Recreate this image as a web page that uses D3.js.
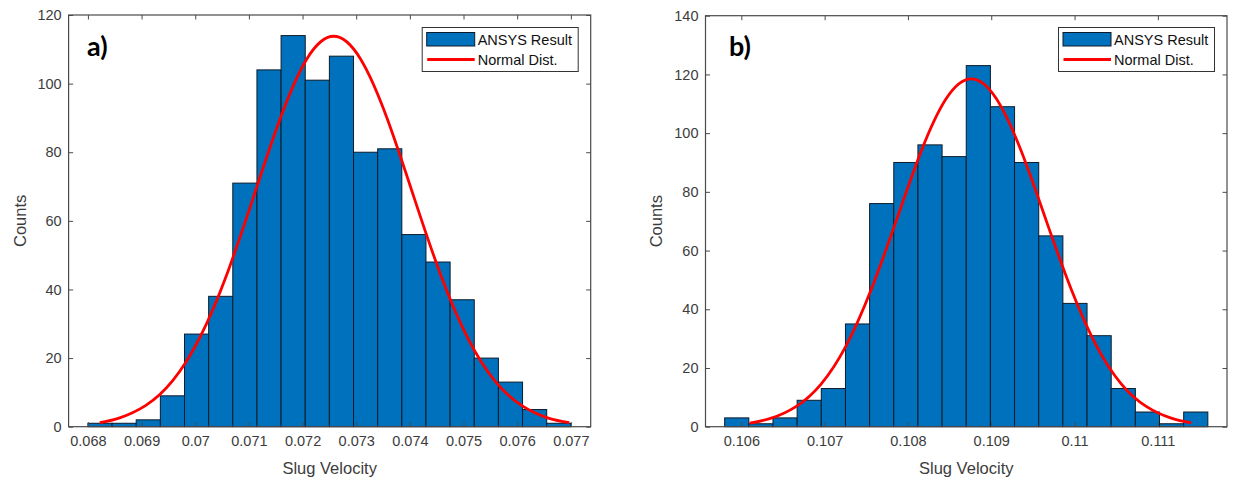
<!DOCTYPE html>
<html>
<head>
<meta charset="utf-8">
<script src="https://cdn.jsdelivr.net/npm/d3@7/dist/d3.min.js"></script>
<style>
  html, body { margin: 0; padding: 0; background: #fff; }
  svg { display: block; }
  text { font-family: "Liberation Sans", Arial, Helvetica, sans-serif; }
</style>
</head>
<body>
<svg id="chart" width="1233" height="480"></svg>
<script>
// ---- Panel a): slug velocity histogram (20 bins) ----
const binEdgesA = [0.068, 0.06845, 0.0689, 0.06935, 0.0698, 0.07025, 0.0707, 0.07115, 0.0716, 0.07205,
                   0.0725, 0.07295, 0.0734, 0.07385, 0.0743, 0.07475, 0.0752, 0.07565, 0.0761, 0.07655, 0.077];
const countsA = [1, 1, 2, 9, 27, 38, 71, 104, 114, 101, 108, 80, 81, 56, 48, 37, 20, 13, 5, 1];
// fitted normal curve, [velocity, count]
const normalA = [
  [0.06822, 1.2], [0.06858, 2.5], [0.06908, 6.2], [0.06958, 13.4], [0.07008, 25.8], [0.07058, 44.0],
  [0.07108, 66.7], [0.07158, 89.7], [0.07208, 107.2], [0.07258, 113.8], [0.07308, 107.2], [0.07358, 89.7],
  [0.07408, 66.7], [0.07458, 44.0], [0.07508, 25.8], [0.07558, 13.4], [0.07608, 6.2], [0.07658, 2.5],
  [0.07697, 1.2]
];
const xTicksA = [0.068, 0.069, 0.070, 0.071, 0.072, 0.073, 0.074, 0.075, 0.076, 0.077];
const xTickLabelsA = ["0.068", "0.069", "0.07", "0.071", "0.072", "0.073", "0.074", "0.075", "0.076", "0.077"];
const yTicksA = [0, 20, 40, 60, 80, 100, 120];

// ---- Panel b): slug velocity histogram (20 bins) ----
const binEdgesB = [0.1058, 0.10609, 0.10638, 0.10667, 0.10696, 0.10725, 0.10754, 0.10783, 0.10812, 0.10841,
                   0.1087, 0.10899, 0.10928, 0.10957, 0.10986, 0.11015, 0.11044, 0.11073, 0.11102, 0.11131, 0.1116];
const countsB = [3, 1, 3, 9, 13, 35, 76, 90, 96, 92, 123, 109, 90, 65, 42, 31, 13, 5, 1, 5];
const normalB = [
  [0.1061, 1.2], [0.10636, 2.9], [0.10666, 6.9], [0.10696, 14.6], [0.10726, 27.7], [0.10756, 46.8],
  [0.10786, 70.2], [0.10816, 93.9], [0.10846, 111.8], [0.10876, 118.5], [0.10906, 111.8], [0.10936, 93.9],
  [0.10966, 70.2], [0.10996, 46.8], [0.11026, 27.7], [0.11056, 14.6], [0.11086, 6.9], [0.11116, 2.9],
  [0.1114, 1.3]
];
const xTicksB = [0.106, 0.107, 0.108, 0.109, 0.110, 0.111];
const xTickLabelsB = ["0.106", "0.107", "0.108", "0.109", "0.11", "0.111"];
const yTicksB = [0, 20, 40, 60, 80, 100, 120, 140];

const legendLabels = ["ANSYS Result", "Normal Dist."];
const xLabel = "Slug Velocity";
const yLabel = "Counts";

const svg = d3.select("#chart");
const BAR = "#0072BD", CURVE = "#ff0000", AXIS = "#4a4a4a", TEXT = "#3c3c3c";

function drawPanel(cfg) {
  const { left, right, top, bottom } = cfg.box;
  const x = d3.scaleLinear().domain(cfg.xDomain).range([left, right]);
  const y = d3.scaleLinear().domain([0, cfg.yMax]).range([bottom, top]);
  const g = svg.append("g");

  const bins = cfg.counts.map((c, i) => ({ x0: cfg.edges[i], x1: cfg.edges[i + 1], c }));
  g.selectAll("rect.bar").data(bins).join("rect")
    .attr("class", "bar")
    .attr("x", d => x(d.x0))
    .attr("width", d => x(d.x1) - x(d.x0))
    .attr("y", d => y(d.c))
    .attr("height", d => y(0) - y(d.c))
    .attr("fill", BAR)
    .attr("stroke", "#0d1b2a")
    .attr("stroke-width", 1);

  const line = d3.line().x(d => x(d[0])).y(d => y(d[1])).curve(d3.curveNatural);
  g.append("path").datum(cfg.curve)
    .attr("d", line)
    .attr("fill", "none")
    .attr("stroke", CURVE)
    .attr("stroke-width", 2.8)
    .attr("stroke-linejoin", "round");

  // axes box with inward ticks on all four sides
  const tl = 4.5;
  const axB = d3.axisBottom(x).tickValues(cfg.xTicks).tickSize(-tl).tickPadding(9)
    .tickFormat((d, i) => cfg.xTickLabels[i]);
  const axT = d3.axisTop(x).tickValues(cfg.xTicks).tickSize(-tl).tickFormat("");
  const axL = d3.axisLeft(y).tickValues(cfg.yTicks).tickSize(-tl).tickPadding(7).tickFormat(d3.format("d"));
  const axR = d3.axisRight(y).tickValues(cfg.yTicks).tickSize(-tl).tickFormat("");

  const style = sel => {
    sel.select(".domain").remove();
    sel.selectAll("line").attr("stroke", AXIS).attr("stroke-width", 1);
    sel.selectAll("text").attr("fill", TEXT).style("font-size", "14.5px")
      .style("font-family", "'Liberation Sans', Arial, sans-serif");
  };
  g.append("g").attr("transform", `translate(0,${bottom})`).call(axB).call(style);
  g.append("g").attr("transform", `translate(0,${top})`).call(axT).call(style);
  g.append("g").attr("transform", `translate(${left},0)`).call(axL).call(style);
  g.append("g").attr("transform", `translate(${right},0)`).call(axR).call(style);

  g.append("rect")
    .attr("x", left).attr("y", top).attr("width", right - left).attr("height", bottom - top)
    .attr("fill", "none").attr("stroke", AXIS).attr("stroke-width", 1.2);

  // axis titles
  g.append("text")
    .attr("x", (left + right) / 2).attr("y", 474)
    .attr("text-anchor", "middle").attr("fill", TEXT).style("font-size", "16.5px")
    .text(xLabel);
  g.append("text")
    .attr("transform", `translate(${cfg.yLabelX},${(top + bottom) / 2}) rotate(-90)`)
    .attr("text-anchor", "middle").attr("dominant-baseline", "central")
    .attr("fill", TEXT).style("font-size", "16.5px")
    .text(yLabel);

  // panel tag
  g.append("text")
    .attr("x", cfg.tagX).attr("y", 56)
    .attr("fill", "#000").style("font-family", "Lato, 'Open Sans', sans-serif")
    .style("font-weight", "bold").style("font-size", "27px")
    .text(cfg.tag);

  // legend
  const lw = 156, lh = 44;
  const lx = right - 12.5 - lw, ly = 27.5;
  const lg = g.append("g");
  lg.append("rect").attr("x", lx).attr("y", ly).attr("width", lw).attr("height", lh)
    .attr("fill", "#fff").attr("stroke", "#333").attr("stroke-width", 1);
  lg.append("rect").attr("x", lx + 4.5).attr("y", ly + 5).attr("width", 48).attr("height", 13.5)
    .attr("fill", BAR).attr("stroke", "#0d1b2a").attr("stroke-width", 1);
  lg.append("line").attr("x1", lx + 5).attr("x2", lx + 52.5).attr("y1", ly + 32).attr("y2", ly + 32)
    .attr("stroke", CURVE).attr("stroke-width", 2.8);
  lg.selectAll("text.leg").data(legendLabels).join("text")
    .attr("class", "leg")
    .attr("x", lx + 55.5)
    .attr("y", (d, i) => ly + (i === 0 ? 12 : 32.5))
    .attr("dominant-baseline", "central")
    .attr("fill", "#111").style("font-size", "14.5px")
    .text(d => d);
}

drawPanel({
  box: { left: 68.6, right: 590.7, top: 15, bottom: 426.7 },
  xDomain: [0.06764, 0.07737], yMax: 120,
  edges: binEdgesA, counts: countsA, curve: normalA,
  xTicks: xTicksA, xTickLabels: xTickLabelsA, yTicks: yTicksA,
  yLabelX: 19.5, tag: "a)", tagX: 87
});

drawPanel({
  box: { left: 705.5, right: 1227, top: 15.7, bottom: 426.7 },
  xDomain: [0.10557, 0.11183], yMax: 140,
  edges: binEdgesB, counts: countsB, curve: normalB,
  xTicks: xTicksB, xTickLabels: xTickLabelsB, yTicks: yTicksB,
  yLabelX: 656, tag: "b)", tagX: 729
});
</script>
</body>
</html>
